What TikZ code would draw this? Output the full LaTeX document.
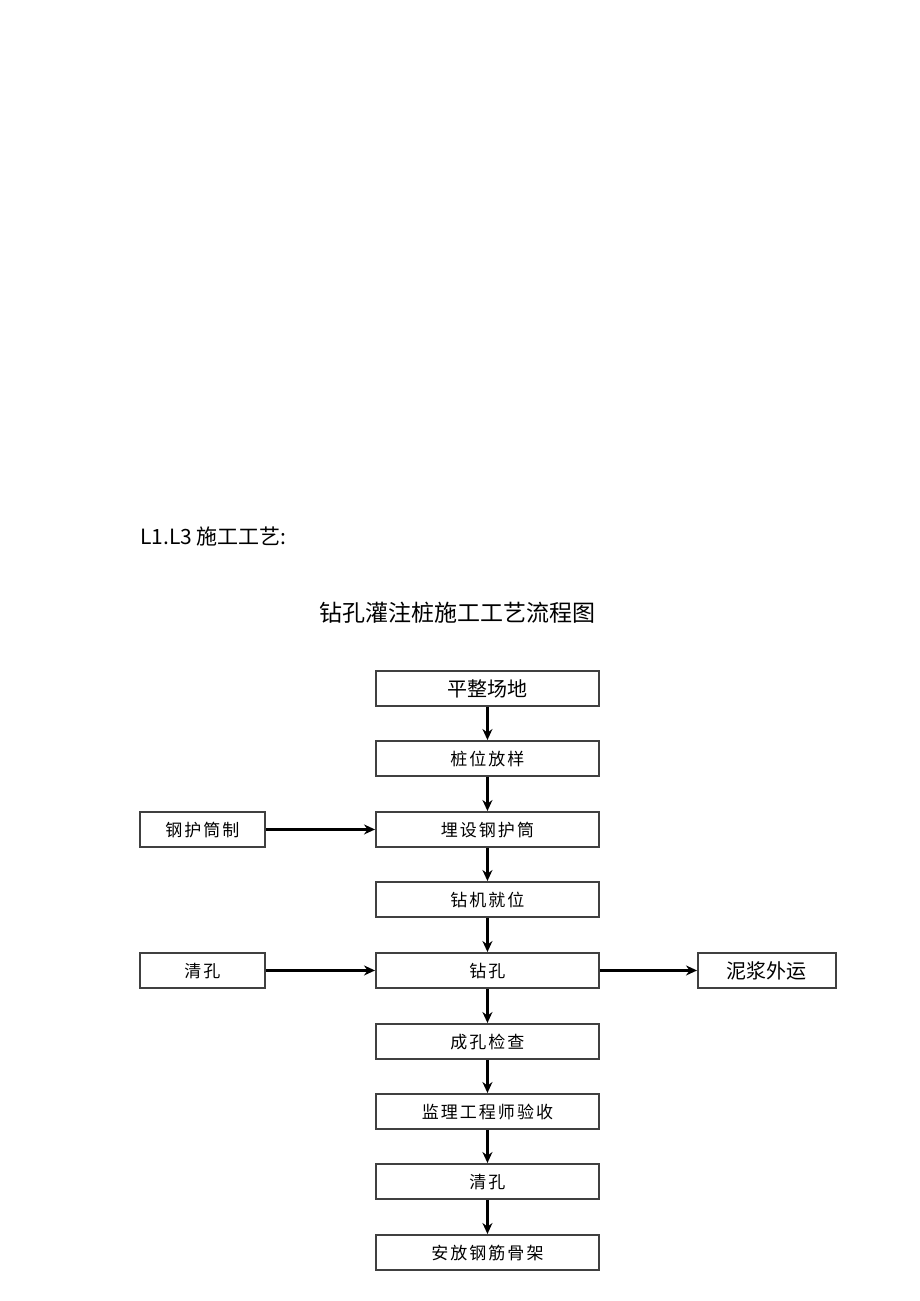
\documentclass[tikz,border=0pt]{standalone}
\usepackage{fontspec}
\newfontfamily\cjk{Noto Sans CJK SC}
\newfontfamily\cjksp[LetterSpace=12]{Noto Sans CJK SC}
\usetikzlibrary{arrows.meta}
\tikzset{
  box/.style={draw=black!75, line width=1.9pt, minimum width=223pt, minimum height=35pt, inner sep=0pt, anchor=north west, text depth=-3pt, font=\cjksp\fontsize{17}{17}\selectfont},
  sidebox/.style={box, minimum width=125pt},
  bigtext/.style={font=\cjk\fontsize{20}{20}\selectfont},
  arr/.style={draw=black, line width=2.3pt, -{Stealth[length=11pt,width=10pt]}}
}
\begin{document}
\begin{tikzpicture}[x=1pt,y=-1pt]
\useasboundingbox (0,0) rectangle (920,1301);
\node[anchor=west, font=\cjk\fontsize{21}{21}\selectfont, inner sep=0pt] (head) at (140,537) {L1.L3 施工工艺:};
\node[font=\cjk\fontsize{23}{23}\selectfont, inner sep=0pt] (title) at (457,613) {钻孔灌注桩施工工艺流程图};

\node[box, bigtext] (b1) at (375,670) {平整场地};
\node[box] (b2) at (375,740) {桩位放样};
\node[box] (b3) at (375,811) {埋设钢护筒};
\node[box] (b4) at (375,881) {钻机就位};
\node[box] (b5) at (375,952) {钻孔};
\node[box] (b6) at (375,1023) {成孔检查};
\node[box] (b7) at (375,1093) {监理工程师验收};
\node[box] (b8) at (375,1163) {清孔};
\node[box] (b9) at (375,1234) {安放钢筋骨架};

\node[sidebox] (s1) at (139,811) {钢护筒制};
\node[sidebox] (s2) at (139,952) {清孔};
\node[sidebox, bigtext, minimum width=138pt] (s3) at (697,952) {泥浆外运};

\draw[arr] (b1) -- (b2);
\draw[arr] (b2) -- (b3);
\draw[arr] (b3) -- (b4);
\draw[arr] (b4) -- (b5);
\draw[arr] (b5) -- (b6);
\draw[arr] (b6) -- (b7);
\draw[arr] (b7) -- (b8);
\draw[arr] (b8) -- (b9);
\draw[arr] (s1) -- (b3);
\draw[arr] (s2) -- (b5);
\draw[arr] (b5) -- (s3);
\end{tikzpicture}
\end{document}
